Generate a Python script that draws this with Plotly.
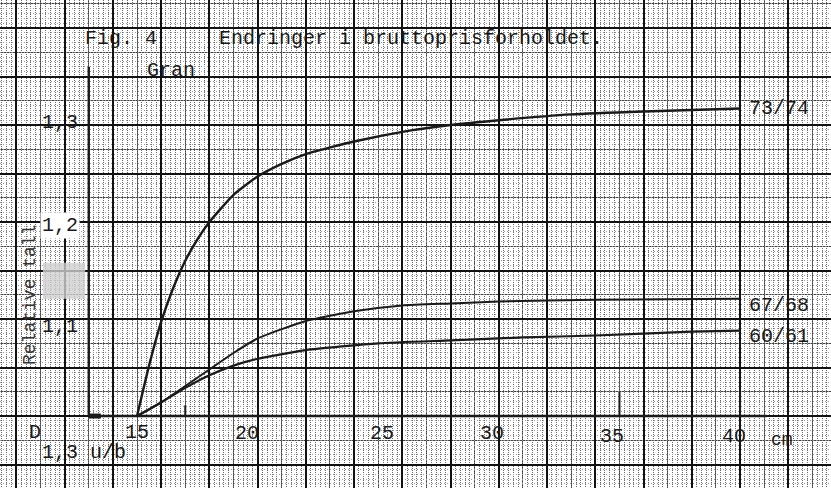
import plotly.graph_objects as go

# ---- data ----
x_7374 = [15, 15.5, 16, 16.5, 17, 17.5, 18, 19, 20, 21, 22, 24, 26, 28, 30, 33, 36, 40]
y_7374 = [1.0, 1.052, 1.097, 1.132, 1.160, 1.182, 1.200, 1.228, 1.247, 1.260, 1.270, 1.283, 1.293, 1.300, 1.305, 1.311, 1.314, 1.317]

x_6768 = [15, 16, 17, 18, 19, 20, 22, 24, 26, 28, 30, 34, 40]
y_6768 = [1.0, 1.014, 1.031, 1.048, 1.065, 1.080, 1.098, 1.108, 1.114, 1.116, 1.118, 1.120, 1.121]

x_6061 = [15, 16, 17, 18, 19, 20, 22, 25, 28, 31, 34, 38, 40]
y_6061 = [1.0, 1.014, 1.029, 1.042, 1.052, 1.059, 1.068, 1.075, 1.078, 1.081, 1.083, 1.087, 1.088]

series_names = ["73/74", "67/68", "60/61"]

x_tick_vals = [15, 19.56, 25.16, 29.72, 34.69, 39.75]
x_tick_text = ["15", "20", "25", "30", "35", "40"]
x_tick_y = [0.9835, 0.9825, 0.9825, 0.9825, 0.9784, 0.9784]

y_tick_vals = [1.303, 1.196, 1.092]
y_tick_text = ["1,3", "1,2", "1,1"]

FONT = "Liberation Mono"
INK = "#1a1a1a"

XR = [9.32, 43.77]
YR = [0.9258, 1.4289]

fig = go.Figure()

# 60/61 on the base (dotted-grid) axes, the others on the overlay (ruled-grid) axes
series = [(x_7374, y_7374, "x2", "y2", 2.4),
          (x_6768, y_6768, "x2", "y2", 2.0),
          (x_6061, y_6061, "x", "y", 2.2)]
for (xs, ys, xa, ya, w), name in zip(series, series_names):
    fig.add_trace(go.Scatter(x=xs, y=ys, mode="lines", name=name,
                             line=dict(color=INK, width=w, shape="spline", smoothing=0.5),
                             xaxis=xa, yaxis=ya, showlegend=False, hoverinfo="skip"))

def txt(x, y, t, size=20, xanchor="left", **kw):
    fig.add_annotation(x=x, y=y, xref="x", yref="y", text=t, showarrow=False,
                       xanchor=xanchor, yanchor="middle",
                       font=dict(family=FONT, size=size, color=kw.pop("color", INK)), **kw)

# series labels at right end
label_y = [1.3175, 1.114, 1.0825]
for name, ly in zip(series_names, label_y):
    txt(40.29, ly, name)

# x tick labels
for v, t, ty in zip(x_tick_vals, x_tick_text, x_tick_y):
    txt(v, ty, t, xanchor="center")
txt(41.74, 0.9753, "cm", size=18, xanchor="center")

# y tick labels
for v, t in zip(y_tick_vals, y_tick_text):
    if t == "1,2":
        txt(12.65, v, t, xanchor="right", bgcolor="white")
    else:
        txt(12.65, v, t, xanchor="right")

# other texts
txt(10.77, 0.9835, "D", xanchor="center")
txt(10.98, 0.9629, "1,3 u/b")
txt(12.76, 1.3897, "Fig. 4")
txt(18.32, 1.3897, "Endringer i bruttoprisforholdet.")
txt(15.33, 1.3567, "Gran")
txt(10.56, 1.1247, "Relative tall", size=18, xanchor="center", textangle=-90, color="#333")

# axes lines and tick marks
shapes = [
    dict(type="rect", xref="x", yref="y", x0=11.1, x1=12.85, y0=1.121, y1=1.158,
         fillcolor="#cfcfcf", line=dict(width=0), layer="above", opacity=0.8),
    dict(type="line", xref="x", yref="y", x0=13, x1=41.1, y0=1.0, y1=1.0,
         line=dict(color=INK, width=2.6)),
    dict(type="line", xref="x", yref="y", x0=13, x1=13, y0=1.0, y1=1.36,
         line=dict(color=INK, width=2.4)),
    dict(type="line", xref="x", yref="y", x0=13, x1=13.5, y0=1.0, y1=1.0,
         line=dict(color=INK, width=5)),
]
for tx, th in [(17, 1.011), (35, 1.025), (40, 1.025)]:
    shapes.append(dict(type="line", xref="x", yref="y", x0=tx, x1=tx, y0=1.0, y1=th,
                       line=dict(color=INK, width=2)))

fig.update_layout(
    width=831, height=488,
    margin=dict(l=0, r=0, t=0, b=0, pad=0),
    paper_bgcolor="white", plot_bgcolor="white",
    showlegend=False,
    shapes=shapes,
    xaxis=dict(range=XR, showticklabels=False, ticks="", zeroline=False, anchor="y",
               showgrid=True, tick0=0, dtick=0.2, gridcolor="#6a6a6a", gridwidth=1, griddash="1px,1px",
               showline=False),
    yaxis=dict(range=YR, showticklabels=False, ticks="", zeroline=False, anchor="x",
               showgrid=True, tick0=1.0, dtick=0.005, gridcolor="#9a9a9a", gridwidth=1, griddash="1px,2px",
               showline=False),
    xaxis2=dict(range=XR, overlaying="x", anchor="y2", showticklabels=False, ticks="", zeroline=False,
                showgrid=True, tick0=0, dtick=2, gridcolor="#111", gridwidth=1.6,
                minor=dict(dtick=1, tick0=0, showgrid=True, gridcolor="#444", gridwidth=1),
                showline=False),
    yaxis2=dict(range=YR, overlaying="y", anchor="x2", showticklabels=False, ticks="", zeroline=False,
                showgrid=True, tick0=1.0, dtick=0.05, gridcolor="#111", gridwidth=1.6,
                minor=dict(dtick=0.025, tick0=1.0, showgrid=True, gridcolor="#444", gridwidth=1),
                showline=False),
)

fig.write_html("out.html", config={"displayModeBar": False},
               post_script="document.body.style.margin='0px';document.body.style.overflow='hidden';")
